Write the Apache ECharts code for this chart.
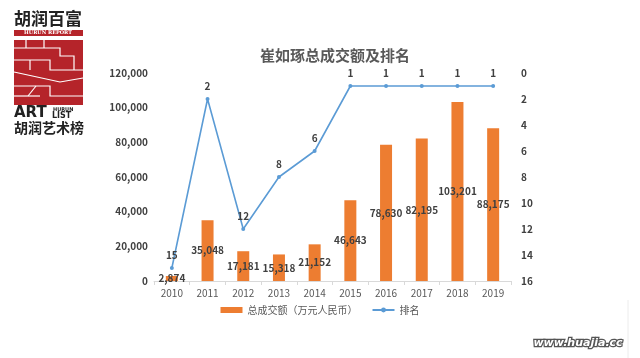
<!DOCTYPE html>
<html><head><meta charset="utf-8">
<script src="https://cdn.jsdelivr.net/npm/echarts@6/dist/echarts.min.js"></script>
<style>html,body{margin:0;padding:0;background:#fff}#c{width:640px;height:358px}</style>
</head><body><div id="c"></div>
<script>
const years = ['2010','2011','2012','2013','2014','2015','2016','2017','2018','2019'];
const amounts = [2874, 35048, 17181, 15318, 21152, 46643, 78630, 82195, 103201, 88175];
const ranks = [15, 2, 12, 8, 6, 1, 1, 1, 1, 1];
const leftTicks = [0, 20000, 40000, 60000, 80000, 100000, 120000];
const rightTicks = [0, 2, 4, 6, 8, 10, 12, 14, 16];

const chart = echarts.init(document.getElementById('c'));
const F = '"Noto Sans CJK SC", "Noto Sans", sans-serif';
const red = '#b5242a';
const logo = [
  {type:'text', left:14, top:10, style:{text:'胡润百富', font:'bold 17px "Noto Sans CJK SC"', fill:'#222'}},
  {type:'rect', shape:{x:14,y:30,width:69,height:6}, style:{fill:red}},
  {type:'text', x:48, y:30.5, style:{text:'HURUN REPORT', font:'bold 5px "DejaVu Serif"', fill:'#fff', align:'center'}},
  {type:'rect', shape:{x:14,y:40,width:69,height:65}, style:{fill:red}},
  {type:'polyline', shape:{points:[[14,48],[60,48],[60,56],[74,56],[74,70]]}, style:{stroke:'#fff', lineWidth:1.2, fill:null}},
  {type:'polyline', shape:{points:[[26,40],[26,48]]}, style:{stroke:'#fff', lineWidth:1.2}},
  {type:'polyline', shape:{points:[[44,40],[44,48]]}, style:{stroke:'#fff', lineWidth:1.2}},
  {type:'polyline', shape:{points:[[14,60],[50,60],[50,70],[83,70]]}, style:{stroke:'#fff', lineWidth:1.2, fill:null}},
  {type:'polyline', shape:{points:[[30,60],[30,70]]}, style:{stroke:'#fff', lineWidth:1.2}},
  {type:'polyline', shape:{points:[[14,72],[60,82],[83,78]]}, style:{stroke:'#fff', lineWidth:1.2, fill:null}},
  {type:'polyline', shape:{points:[[14,86],[50,86],[50,96],[83,96]]}, style:{stroke:'#fff', lineWidth:1.2, fill:null}},
  {type:'polyline', shape:{points:[[28,96],[36,86]]}, style:{stroke:'#fff', lineWidth:1.2}},
  {type:'polyline', shape:{points:[[14,96],[40,96]]}, style:{stroke:'#fff', lineWidth:1.2}},
  {type:'text', left:14, top:106, style:{text:'ART', font:'900 15px "DejaVu Sans"', fill:'#222'}},
  {type:'text', left:53, top:107, style:{text:'HURUN', font:'bold 5px "DejaVu Sans"', fill:'#222'}},
  {type:'text', left:52, top:112, style:{text:'LIST', font:'bold 8px "DejaVu Sans"', fill:'#222'}},
  {type:'text', left:14, top:121, style:{text:'胡润艺术榜', font:'bold 14px "Noto Sans CJK SC"', fill:'#222'}},
  {type:'line', shape:{x1:628,y1:300,x2:628,y2:358}, style:{stroke:'#ececec', lineWidth:1}},
  {type:'text', x:578, y:343, style:{text:'www.huajia.cc', font:'italic bold 11px "DejaVu Sans"', fill:'#ffffff', stroke:'#555', lineWidth:2.5, align:'center', verticalAlign:'middle'}}
];

chart.setOption({
  animation:false,
  backgroundColor:'#fff',
  title:{text:'崔如琢总成交额及排名', left:330, top:43, textAlign:'center',
    textStyle:{fontFamily:F, fontSize:15, fontWeight:'bold', color:'#595959'}},
  legend:{bottom:38, left:'center', itemGap:14, itemWidth:22, itemHeight:6,
    textStyle:{fontFamily:F, fontSize:10, color:'#595959'},
    data:[{name:'总成交额（万元人民币）', icon:'rect'}, {name:'排名'}]},
  grid:{left:154, right:129, top:73, bottom:77},
  xAxis:{type:'category', data:years,
    axisLine:{lineStyle:{color:'#d9d9d9'}},
    axisTick:{show:true, alignWithLabel:false, length:4, lineStyle:{color:'#d9d9d9'}},
    axisLabel:{color:'#595959', fontFamily:F, fontSize:10, margin:7}},
  yAxis:[
    {type:'value', min:leftTicks[0], max:leftTicks[leftTicks.length-1], interval:20000,
      splitLine:{show:false}, axisLine:{show:false}, axisTick:{show:false},
      axisLabel:{color:'#404040', fontFamily:F, fontSize:10, fontWeight:'bold', margin:6,
        formatter:v=>v.toLocaleString('en-US')}},
    {type:'value', inverse:true, min:rightTicks[0], max:rightTicks[rightTicks.length-1], interval:2,
      splitLine:{show:false}, axisLine:{show:false}, axisTick:{show:false},
      axisLabel:{color:'#404040', fontFamily:F, fontSize:10, fontWeight:'bold', margin:10}}
  ],
  series:[
    {name:'总成交额（万元人民币）', type:'bar', data:amounts, barWidth:12,
      itemStyle:{color:'#ED7D31'},
      label:{show:true, position:'inside', color:'#404040', fontFamily:F, fontSize:10, fontWeight:'bold',
        formatter:p=>p.value.toLocaleString('en-US')}},
    {name:'排名', type:'line', yAxisIndex:1, data:ranks, symbol:'circle', symbolSize:4,
      lineStyle:{color:'#5B9BD5', width:1.6}, itemStyle:{color:'#5B9BD5'},
      label:{show:true, position:'top', distance:6, color:'#404040', fontFamily:F, fontSize:10, fontWeight:'bold'}}
  ],
  graphic:logo
});
</script></body></html>
